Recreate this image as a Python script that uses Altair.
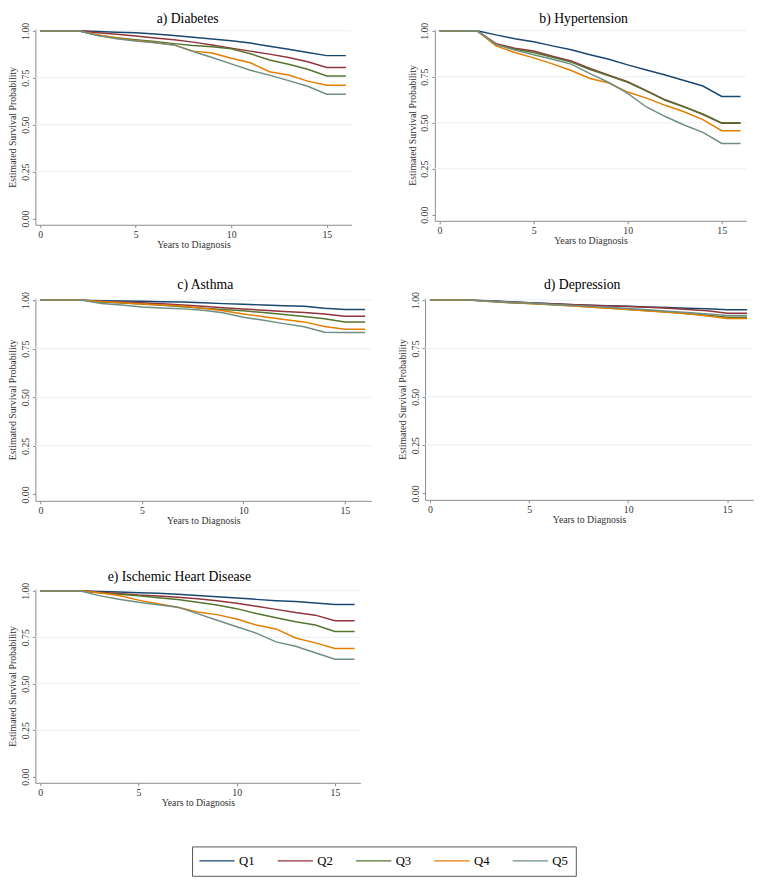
import altair as alt
import pandas as pd

# Years at which the curves were read
T = [0, 2, 3, 4, 5, 6, 7, 8, 9, 10, 11, 12, 13, 14, 15, 16]
QUINTILES = ["Q1", "Q2", "Q3", "Q4", "Q5"]
COLORS = ["#1a476f", "#90353b", "#55752f", "#e37e00", "#6e8e84"]
Y_TICKS = [0, 0.25, 0.5, 0.75, 1.0]
X_TICKS = [0, 5, 10, 15]
GRID = [0.25, 0.5, 0.75, 1.0]

# a) Diabetes
diab_q1 = [1, 1, 0.997, 0.993, 0.99, 0.983, 0.975, 0.966, 0.957, 0.947, 0.935, 0.918, 0.902, 0.885, 0.868, 0.868]
diab_q2 = [1, 1, 0.99, 0.982, 0.973, 0.962, 0.952, 0.94, 0.925, 0.908, 0.892, 0.876, 0.858, 0.835, 0.805, 0.805]
diab_q3 = [1, 1, 0.976, 0.963, 0.952, 0.943, 0.932, 0.922, 0.915, 0.905, 0.878, 0.845, 0.822, 0.795, 0.76, 0.76]
diab_q4 = [1, 1, 0.98, 0.962, 0.948, 0.938, 0.925, 0.892, 0.882, 0.854, 0.83, 0.782, 0.765, 0.732, 0.71, 0.71]
diab_q5 = [1, 1, 0.975, 0.958, 0.946, 0.937, 0.925, 0.89, 0.858, 0.824, 0.79, 0.764, 0.735, 0.705, 0.662, 0.662]

# b) Hypertension
hyp_q1 = [1, 1, 0.978, 0.957, 0.94, 0.918, 0.897, 0.87, 0.845, 0.815, 0.787, 0.76, 0.73, 0.70, 0.643, 0.643]
hyp_q2 = [1, 1, 0.93, 0.905, 0.89, 0.862, 0.836, 0.795, 0.759, 0.724, 0.675, 0.625, 0.588, 0.545, 0.497, 0.497]
hyp_q3 = [1, 1, 0.925, 0.9, 0.882, 0.856, 0.83, 0.79, 0.755, 0.72, 0.672, 0.622, 0.586, 0.548, 0.50, 0.50]
hyp_q4 = [1, 1, 0.918, 0.882, 0.853, 0.82, 0.784, 0.741, 0.716, 0.667, 0.634, 0.595, 0.56, 0.517, 0.457, 0.457]
hyp_q5 = [1, 1, 0.926, 0.895, 0.87, 0.845, 0.819, 0.767, 0.719, 0.66, 0.586, 0.534, 0.488, 0.448, 0.388, 0.388]

# c) Asthma
ast_q1 = [1, 1, 0.997, 0.995, 0.994, 0.992, 0.99, 0.986, 0.982, 0.979, 0.975, 0.971, 0.968, 0.958, 0.952, 0.952]
ast_q2 = [1, 1, 0.993, 0.99, 0.986, 0.981, 0.975, 0.968, 0.961, 0.954, 0.948, 0.942, 0.936, 0.929, 0.917, 0.917]
ast_q3 = [1, 1, 0.99, 0.985, 0.98, 0.974, 0.966, 0.958, 0.952, 0.945, 0.936, 0.926, 0.916, 0.904, 0.888, 0.888]
ast_q4 = [1, 1, 0.993, 0.987, 0.98, 0.975, 0.97, 0.958, 0.945, 0.929, 0.915, 0.9, 0.888, 0.864, 0.85, 0.85]
ast_q5 = [1, 1, 0.983, 0.975, 0.965, 0.96, 0.955, 0.948, 0.935, 0.912, 0.896, 0.879, 0.863, 0.835, 0.833, 0.833]

# d) Depression
dep_q1 = [1, 1, 0.997, 0.992, 0.987, 0.982, 0.978, 0.974, 0.971, 0.968, 0.965, 0.962, 0.958, 0.955, 0.95, 0.95]
dep_q2 = [1, 1, 0.996, 0.99, 0.986, 0.981, 0.977, 0.973, 0.97, 0.967, 0.963, 0.958, 0.952, 0.945, 0.932, 0.932]
dep_q3 = [1, 1, 0.993, 0.986, 0.982, 0.977, 0.972, 0.966, 0.959, 0.952, 0.945, 0.938, 0.93, 0.922, 0.912, 0.912]
dep_q4 = [1, 1, 0.994, 0.988, 0.983, 0.977, 0.971, 0.965, 0.958, 0.951, 0.944, 0.937, 0.93, 0.918, 0.905, 0.905]
dep_q5 = [1, 1, 0.995, 0.989, 0.985, 0.979, 0.974, 0.969, 0.963, 0.957, 0.95, 0.943, 0.936, 0.928, 0.92, 0.92]

# e) Ischemic Heart Disease
ihd_q1 = [1, 1, 0.997, 0.994, 0.99, 0.987, 0.982, 0.975, 0.968, 0.961, 0.954, 0.947, 0.942, 0.934, 0.926, 0.926]
ihd_q2 = [1, 1, 0.993, 0.985, 0.977, 0.972, 0.965, 0.957, 0.946, 0.933, 0.917, 0.9, 0.883, 0.869, 0.839, 0.839]
ihd_q3 = [1, 1, 0.99, 0.982, 0.974, 0.963, 0.953, 0.939, 0.924, 0.904, 0.878, 0.855, 0.834, 0.816, 0.781, 0.781]
ihd_q4 = [1, 1, 0.99, 0.975, 0.95, 0.93, 0.912, 0.886, 0.872, 0.848, 0.816, 0.795, 0.746, 0.72, 0.69, 0.69]
ihd_q5 = [1, 1, 0.974, 0.955, 0.939, 0.925, 0.912, 0.877, 0.842, 0.807, 0.772, 0.725, 0.702, 0.667, 0.632, 0.632]

SERIF = "Liberation Serif"
AXIS_GRAY = "#8a8a8a"


def long_df(series):
    rows = []
    for q, vals in zip(QUINTILES, series):
        for t, v in zip(T, vals):
            rows.append({"t": t, "s": v, "q": q})
    return pd.DataFrame(rows)


xscale = alt.Scale(domain=[-0.25, 16.3], nice=False, zero=False)
yscale = alt.Scale(domain=[-0.033, 1.01], nice=False, zero=False)
cscale = alt.Scale(domain=QUINTILES, range=COLORS)

xaxis = alt.Axis(
    values=X_TICKS, title="Years to Diagnosis", grid=False,
    labelFont=SERIF, labelFontSize=10, labelColor="#333333",
    titleFont=SERIF, titleFontSize=10, titleFontWeight="normal",
    titleColor="#333333", titlePadding=0, tickSize=3, labelPadding=2,
    domainColor=AXIS_GRAY, tickColor=AXIS_GRAY)
yaxis = alt.Axis(
    values=Y_TICKS, format=".2f", title="Estimated Survival Probability",
    grid=False, labelAngle=270, labelAlign="center", labelBaseline="bottom",
    labelFont=SERIF, labelFontSize=10, labelColor="#333333",
    titleFont=SERIF, titleFontSize=10, titleFontWeight="normal",
    titleColor="#333333", titlePadding=3, tickSize=3, labelPadding=2,
    domainColor=AXIS_GRAY, tickColor=AXIS_GRAY)

# long horizontal line sample drawn beside each label
legend = alt.Legend(
    orient="none", legendX=160, legendY=835, direction="horizontal", title=None,
    symbolType="M-3.5,0H14.5", symbolSize=16, symbolStrokeWidth=1.5,
    labelFont=SERIF, labelFontSize=13, labelColor="black", labelOffset=27,
    columnPadding=20, padding=8, strokeColor="#555555", fillColor="white",
    cornerRadius=0,
)


def panel(series, title, w, h, dx, off):
    df = long_df(series)
    grid = alt.Chart(pd.DataFrame({"g": GRID})).mark_rule(
        color="#e6eef1", strokeWidth=1
    ).encode(y=alt.Y("g:Q", scale=yscale, axis=yaxis))
    lines = alt.Chart(df).mark_line(strokeWidth=1.5).encode(
        x=alt.X("t:Q", scale=xscale, axis=xaxis),
        y=alt.Y("s:Q", scale=yscale, axis=yaxis),
        color=alt.Color("q:N", scale=cscale, legend=legend),
        order="t:Q",
    )
    return alt.layer(grid, lines).properties(
        width=w, height=h,
        title=alt.Title(title, font=SERIF, fontSize=14, fontWeight="normal",
                        color="black", anchor="middle", offset=off, dx=dx),
    )


pa = panel([diab_q1, diab_q2, diab_q3, diab_q4, diab_q5], "a)  Diabetes", 323, 200, -6, -4)
pb = panel([hyp_q1, hyp_q2, hyp_q3, hyp_q4, hyp_q5], "b) Hypertension", 318, 196, -7, -4)
pc = panel([ast_q1, ast_q2, ast_q3, ast_q4, ast_q5], "c) Asthma", 343, 207, 2, 0)
pd_ = panel([dep_q1, dep_q2, dep_q3, dep_q4, dep_q5], "d) Depression", 335, 206, -7, 0)
pe = panel([ihd_q1, ihd_q2, ihd_q3, ihd_q4, ihd_q5], "e) Ischemic Heart Disease", 332, 198, -19, -2)

row1 = alt.hconcat(pa, pb, spacing=56)
row2 = alt.hconcat(pc, pd_, spacing=26)
top = alt.vconcat(row1, row2, spacing=29)

chart = alt.vconcat(top, pe, spacing=46).properties(
    padding={"left": 0, "top": -5, "right": 0, "bottom": 0}
).configure_view(stroke=None)

chart.save("out.html", embed_options={"renderer": "svg", "actions": False})
